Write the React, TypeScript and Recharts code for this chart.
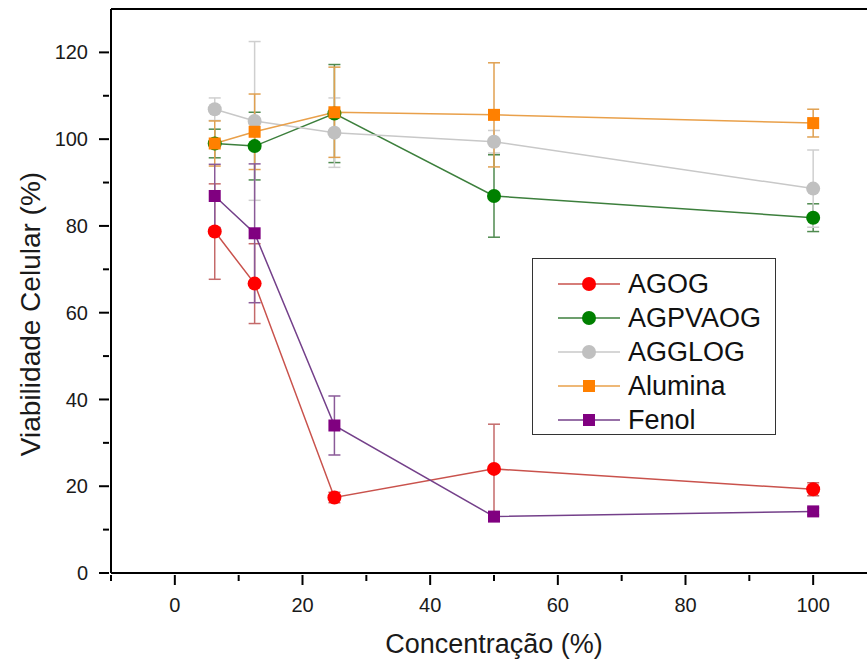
import {
  ComposedChart,
  Line,
  XAxis,
  YAxis,
  ErrorBar,
  Legend,
  Label,
  ReferenceLine,
} from 'recharts'

const FONT = '"Liberation Sans", Arial, sans-serif'

const concentrations = [6.25, 12.5, 25, 50, 100]

const agog = [78.7, 66.7, 17.4, 24.0, 19.3]
const agogErr = [11, 9.2, 1.2, 10.3, 1.5]
const agpvaog = [99.0, 98.4, 105.9, 86.9, 81.9]
const agpvaogErr = [3.3, 7.8, 11.3, 9.5, 3.2]
const agglog = [106.9, 104.2, 101.5, 99.4, 88.6]
const agglogErr = [2.6, 18.3, 8, 2.6, 8.9]
const alumina = [99.0, 101.7, 106.2, 105.6, 103.7]
const aluminaErr = [5.2, 8.7, 10.4, 12, 3.2]
const fenol = [86.9, 78.3, 34.0, 13.0, 14.2]
const fenolErr = [7.3, 16, 6.8, 0.8, 0.8]

const xTicks = [-10, 0, 10, 20, 30, 40, 50, 60, 70, 80, 90, 100, 110]
const yTicks = [0, 10, 20, 30, 40, 50, 60, 70, 80, 90, 100, 110, 120]

type Shape = 'circle' | 'square'

const series = [
  { key: 'AGOG', values: agog, errors: agogErr, marker: '#ff0000', line: '#c9524c', err: '#c46a6a', shape: 'circle' as Shape },
  { key: 'AGPVAOG', values: agpvaog, errors: agpvaogErr, marker: '#008000', line: '#3c7f3c', err: '#4f8a4f', shape: 'circle' as Shape },
  { key: 'AGGLOG', values: agglog, errors: agglogErr, marker: '#c0c0c0', line: '#c8c8c8', err: '#cfcfcf', shape: 'circle' as Shape },
  { key: 'Alumina', values: alumina, errors: aluminaErr, marker: '#ff8000', line: '#e9a04a', err: '#e0a050', shape: 'square' as Shape },
  { key: 'Fenol', values: fenol, errors: fenolErr, marker: '#800080', line: '#74408a', err: '#8a5a98', shape: 'square' as Shape },
]

const data = concentrations.map((x, i) => {
  const row: Record<string, number> = { x }
  series.forEach((s) => {
    row[s.key] = s.values[i]
    row[`${s.key}_err`] = s.errors[i]
  })
  return row
})

function Marker({ cx, cy, shape, color }: { cx: number; cy: number; shape: Shape; color: string }) {
  if (shape === 'circle') return <circle cx={cx} cy={cy} r={7} fill={color} />
  return <rect x={cx - 6} y={cy - 6} width={12} height={12} fill={color} />
}

const makeDot = (s: (typeof series)[number]) => (props: any) => {
  const { cx, cy, index } = props
  if (cx == null || cy == null) return <g key={`${s.key}-${index}`} />
  return (
    <g key={`${s.key}-${index}`}>
      <Marker cx={cx} cy={cy} shape={s.shape} color={s.marker} />
    </g>
  )
}

const XTick = ({ x, y, payload }: any) => {
  const major = payload.value % 20 === 0
  return (
    <g>
      <line x1={x} y1={y} x2={x} y2={y + (major ? 10 : 6)} stroke="#000" strokeWidth={2} />
      {major && (
        <text x={x} y={y + 23} dy="0.71em" textAnchor="middle" fontSize={20} fontFamily={FONT} fill="#1a1a1a">
          {payload.value}
        </text>
      )}
    </g>
  )
}

const YTick = ({ x, y, payload }: any) => {
  const major = payload.value % 20 === 0
  return (
    <g>
      <line x1={x} y1={y} x2={x - (major ? 10 : 6)} y2={y} stroke="#000" strokeWidth={2} />
      {major && (
        <text x={x - 21} y={y} dy="0.355em" textAnchor="end" fontSize={20} fontFamily={FONT} fill="#1a1a1a">
          {payload.value}
        </text>
      )}
    </g>
  )
}

const YTitle = ({ viewBox }: any) => {
  const cx = viewBox.x + 40
  const cy = viewBox.y + viewBox.height / 2 + 23
  return (
    <text
      x={cx}
      y={cy}
      transform={`rotate(-90 ${cx} ${cy})`}
      textAnchor="middle"
      fontSize={28}
      fontFamily={FONT}
      fill="#1a1a1a"
    >
      Viabilidade Celular (%)
    </text>
  )
}

// keep the legend in the series order, not the order recharts hands back
const LegendBox = ({ payload }: any) => {
  const names = new Set((payload || []).map((p: any) => p.value))
  return (
    <div
      style={{
        border: '1px solid #333',
        background: '#fff',
        paddingTop: 8,
        width: 242,
        height: 167,
        fontFamily: FONT,
      }}
    >
      {series
        .filter((s) => names.has(s.key))
        .map((s) => (
          <div key={s.key} style={{ display: 'flex', alignItems: 'center', height: 34 }}>
            <svg width={95} height={20} style={{ flex: 'none' }}>
              <line x1={25} y1={10} x2={87} y2={10} stroke={s.line} strokeWidth={1.5} />
              <Marker cx={56} cy={10} shape={s.shape} color={s.marker} />
            </svg>
            <span style={{ fontSize: 27, color: '#111', lineHeight: '34px' }}>{s.key}</span>
          </div>
        ))}
    </div>
  )
}

export default function App() {
  return (
    <div style={{ position: 'absolute', left: 0, top: 0, width: 867, height: 661, overflow: 'hidden', background: '#fff' }}>
      <ComposedChart width={880} height={661} data={data} margin={{ top: 9, right: 3, bottom: 0, left: 0 }}>
        <XAxis
          type="number"
          dataKey="x"
          domain={[-10, 110]}
          ticks={xTicks}
          interval={0}
          tickSize={0}
          tickLine={false}
          tick={<XTick />}
          height={88}
          axisLine={{ stroke: '#000', strokeWidth: 2 }}
          allowDataOverflow
        >
          <Label value="Concentração (%)" position="insideBottom" offset={8} fontSize={27} fontFamily={FONT} fill="#1a1a1a" />
        </XAxis>
        <YAxis
          type="number"
          domain={[0, 130]}
          ticks={yTicks}
          interval={0}
          tickSize={0}
          tickLine={false}
          tick={<YTick />}
          width={111}
          axisLine={{ stroke: '#000', strokeWidth: 2 }}
          allowDataOverflow
        >
          <Label content={<YTitle />} />
        </YAxis>
        <ReferenceLine y={130} stroke="#000" strokeWidth={2} />
        {series.map((s) => (
          <Line
            key={s.key}
            type="linear"
            dataKey={s.key}
            name={s.key}
            stroke={s.line}
            strokeWidth={1.5}
            dot={makeDot(s)}
            activeDot={false}
            isAnimationActive={false}
          >
            <ErrorBar dataKey={`${s.key}_err`} direction="y" width={6} stroke={s.err} strokeWidth={1.5} />
          </Line>
        ))}
        <Legend
          layout="horizontal"
          verticalAlign="middle"
          align="center"
          content={<LegendBox />}
          wrapperStyle={{ position: 'absolute', left: 532, top: 258, width: 244 }}
        />
      </ComposedChart>
    </div>
  )
}
